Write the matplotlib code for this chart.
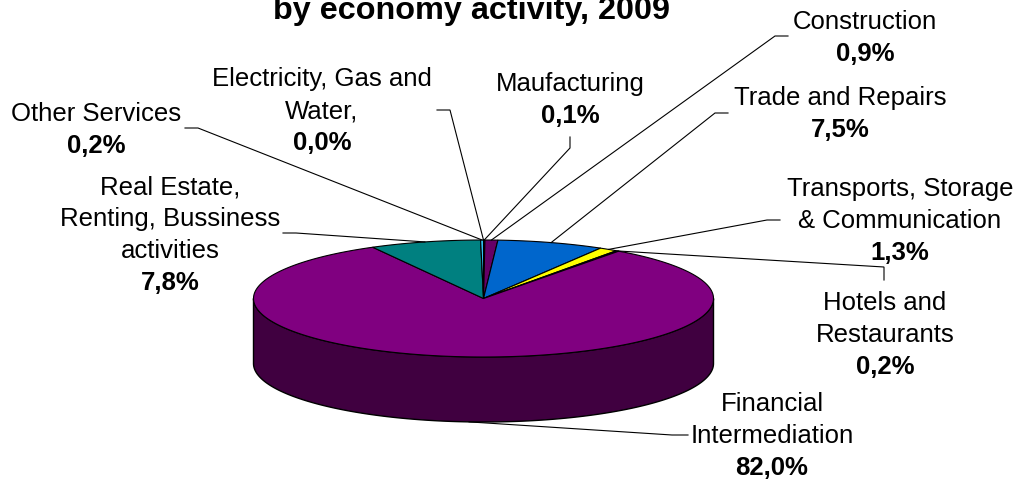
import numpy as np
import matplotlib
matplotlib.use("Agg")
import matplotlib.pyplot as plt
from matplotlib.patches import Polygon

# ---- data ----
categories = [
    "Electricity, Gas and\nWater,",
    "Maufacturing",
    "Construction",
    "Trade and Repairs",
    "Transports, Storage\n& Communication",
    "Hotels and\nRestaurants",
    "Financial\nIntermediation",
    "Real Estate,\nRenting, Bussiness\nactivities",
    "Other Services",
]
shares = [0.0, 0.1, 0.9, 7.5, 1.3, 0.2, 82.0, 7.8, 0.2]
title_text = "by economy activity, 2009"

# ---- styles / layout ----
top_colors = ["#33CCFF", "#202020", "#660066", "#0066CC", "#FFFF00",
              "#000080", "#800080", "#008080", "#33CCFF"]
side_colors = ["#1A6680", "#101010", "#330033", "#003366", "#808000",
               "#000040", "#400040", "#004040", "#1A6680"]

# label block: (center x, first baseline y)
label_pos = [(322, 86), (570, 91), (865, 29), (840, 105), (900, 196),
             (885, 310), (772, 411), (170, 194), (96, 121)]
# leader: anchor near label, elbow
leader_pts = [((437, 110), (450, 110)),
              ((570, 137), (570, 148)),
              ((788, 36), (775, 36)),
              ((728, 113), (715, 113)),
              ((780, 220), (767, 220)),
              ((884, 280), (884, 267)),
              ((688, 435), (672, 435)),
              ((283, 233), (296, 233)),
              ((185, 128), (198, 128))]

W, H = 1019, 484
CX, CY, RX, RY, DEPTH = 483.5, 298.5, 230.0, 58.5, 65.0
PITCH = 32
FS = 18.5
FONT = "Liberation Sans"

fig = plt.figure(figsize=(W / 100, H / 100), dpi=100)
ax = fig.add_axes([0, 0, 1, 1])
ax.set_xlim(0, W)
ax.set_ylim(H, 0)
ax.axis("off")


def ell(theta_deg, dy=0.0):
    t = np.radians(theta_deg)
    return CX + RX * np.sin(t), CY - RY * np.cos(t) + dy


total = float(sum(shares))
starts = np.cumsum([0.0] + shares[:-1]) / total * 360.0
ends = np.cumsum(shares) / total * 360.0

# ---- side walls (front half: 90..270 deg clockwise from top) ----
for s, e, sc in zip(starts, ends, side_colors):
    a, b = max(s, 90.0), min(e, 270.0)
    if b <= a:
        continue
    th = np.linspace(a, b, 200)
    xt, yt = ell(th)
    xb, yb = ell(th[::-1], DEPTH)
    pts = np.column_stack([np.r_[xt, xb], np.r_[yt, yb]])
    ax.add_patch(Polygon(pts, closed=True, facecolor=sc, edgecolor="black",
                         linewidth=1.0, zorder=1))

# ---- top face ----
for s, e, c in zip(starts, ends, top_colors):
    if e - s <= 0:
        continue
    th = np.linspace(s, e, max(int((e - s) * 3), 4))
    xt, yt = ell(th)
    pts = np.column_stack([np.r_[CX, xt], np.r_[CY, yt]])
    ax.add_patch(Polygon(pts, closed=True, facecolor=c, edgecolor="black",
                         linewidth=0.8, zorder=2))

# ---- leader lines ----
for (s, e), (anchor, elbow) in zip(zip(starts, ends), leader_pts):
    mid = (s + e) / 2.0
    front = np.cos(np.radians(mid)) < 0
    ex, ey = ell(mid, DEPTH if front else 0.0)
    ax.plot([anchor[0], elbow[0], ex], [anchor[1], elbow[1], ey],
            color="black", linewidth=0.8, zorder=3, solid_joinstyle="miter")

# ---- labels ----
for name, val, (lx, ly) in zip(categories, shares, label_pos):
    lines = name.split("\n")
    for k, ln in enumerate(lines):
        ax.text(lx, ly + k * PITCH, ln, ha="center", va="baseline",
                fontsize=FS, family=FONT, zorder=4)
    pct = f"{val:.1f}%".replace(".", ",")
    ax.text(lx, ly + len(lines) * PITCH, pct, ha="center", va="baseline",
            fontsize=FS, family=FONT, fontweight="bold", zorder=4)

# ---- title (first line falls outside the visible area) ----
ax.text(472, 19.5, title_text, ha="center", va="baseline", fontsize=23.3,
        family=FONT, fontweight="bold")

fig.savefig("out.png", dpi=100, facecolor="white")
